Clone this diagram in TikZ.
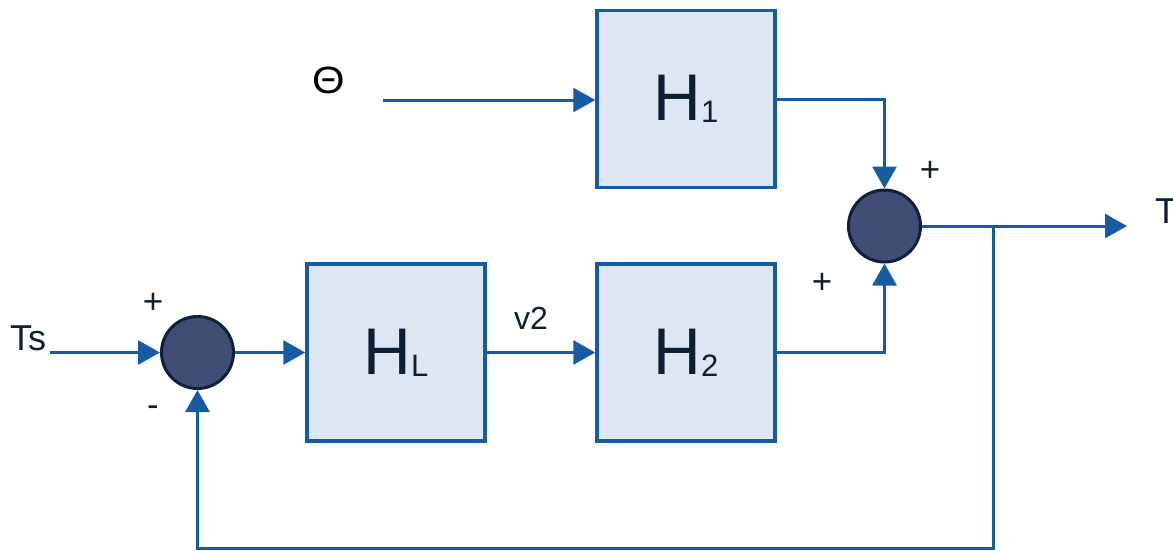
\documentclass[tikz,border=0pt]{standalone}
\usepackage{fontspec}
\setmainfont{Liberation Sans}
\usetikzlibrary{arrows.meta}

\definecolor{lineblue}{RGB}{22,92,164}
\definecolor{boxfill}{RGB}{222,230,242}
\definecolor{sumfill}{RGB}{64,77,116}
\definecolor{sumdraw}{RGB}{15,32,60}
\definecolor{txt}{RGB}{14,30,52}

\tikzset{
  block/.style={draw=lineblue, fill=boxfill, line width=3.5pt, minimum width=178pt, minimum height=177pt, inner sep=0pt, text=txt},
  sumnode/.style={circle, draw=sumdraw, fill=sumfill, line width=3pt, minimum size=72pt, inner sep=0pt},
  signal/.style={draw=lineblue, line width=3pt, -{Triangle[length=22pt,width=24pt]}},
  lbl/.style={text=txt, inner sep=0pt, font=\fontsize{36}{36}\selectfont},
  sgn/.style={text=txt, inner sep=0pt, font=\fontsize{35}{35}\selectfont}
}
\newcommand{\blk}[1]{\fontsize{66}{66}\selectfont H\raisebox{-2pt}{\fontsize{31}{31}\selectfont #1}}

\begin{document}
\begin{tikzpicture}[x=1pt, y=-1pt]
\useasboundingbox (0,0) rectangle (1173,550);

% blocks and summing points
\node[block] (h1) at (686,99) {\blk{1}};
\node[block] (hl) at (396,352.5) {\blk{L}};
\node[block] (h2) at (686,352.5) {\blk{2}};
\node[sumnode] (sum1) at (197.5,352.5) {};
\node[sumnode] (sum2) at (884.5,226) {};

% labels
\node[lbl, text=black, font=\fontsize{38}{38}\selectfont, xscale=1.1] (theta) at (329,80) {Θ};
\node[lbl, anchor=base west] (ts) at (10,350) {Ts};
\node[lbl, anchor=base west] (tout) at (1155,223) {T};
\node[lbl, anchor=base west, font=\fontsize{32}{32}\selectfont] (v2) at (514,329) {v2};
\node[sgn] (p1) at (930,171) {+};
\node[sgn] (p2) at (822,283) {+};
\node[sgn] (p3) at (153,303) {+};
\node[sgn] (m1) at (153,411) {-};

% free ends
\coordinate (thetain) at (383,100);
\coordinate (tsin) at (50,352.5);
\coordinate (tend) at (1127,226);
\coordinate (branch) at (993,226);
\coordinate (fbr) at (993,548);
\coordinate (fbl) at (197.5,548);

% connections
\draw[signal] (thetain) -- (h1.west |- thetain);
\draw[signal] (h1.east) -| (sum2.north);
\draw[signal] (h2.east) -| (sum2.south);
\draw[signal] (sum2.east) -- (tend);
\draw[signal] (tsin) -- (sum1.west);
\draw[signal] (sum1.east) -- (hl.west);
\draw[signal] (hl.east) -- (h2.west);
\draw[signal] (branch) -- (fbr) -- (fbl) -- (sum1.south);
\end{tikzpicture}
\end{document}
